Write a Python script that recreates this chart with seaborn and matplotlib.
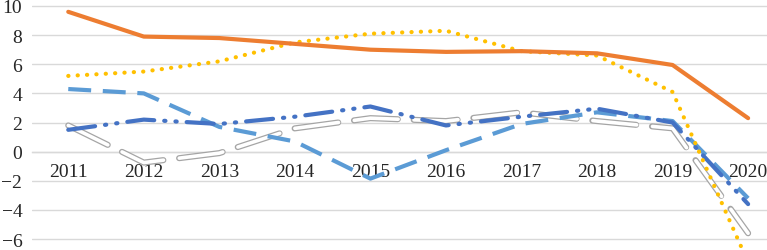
import pandas as pd
import matplotlib.pyplot as plt
import seaborn as sns

# Datos
years = ["2011", "2012", "2013", "2014", "2015", "2016", "2017", "2018", "2019", "2020"]
naranja = [9.6, 7.9, 7.8, 7.4, 7.0, 6.85, 6.9, 6.75, 5.95, 2.3]
amarillo = [5.2, 5.5, 6.2, 7.5, 8.1, 8.3, 6.9, 6.6, 4.1, -7.6]
azul_claro = [4.3, 4.0, 1.7, 0.7, -1.85, 0.1, 1.9, 2.7, 2.1, -3.2]
azul_oscuro = [1.5, 2.2, 1.9, 2.4, 3.1, 1.8, 2.4, 2.95, 2.0, -3.6]
gris = [1.8, -0.75, -0.1, 1.6, 2.3, 2.1, 2.7, 2.1, 1.6, -5.6]

df = pd.DataFrame({
    "pos": range(len(years)),
    "naranja": naranja,
    "amarillo": amarillo,
    "azul_claro": azul_claro,
    "azul_oscuro": azul_oscuro,
    "gris": gris,
})

sns.set_style("white")
plt.rcParams['font.family'] = ['Liberation Serif', 'DejaVu Serif']

fig = plt.figure(figsize=(7.67, 2.51), dpi=100)
ax = fig.add_axes([32 / 767, 0, 735 / 767, 1])

# Serie gris: linea blanca con borde gris
sns.lineplot(data=df, x="pos", y="gris", ax=ax, color="#A5A5A5", linewidth=4.4,
             linestyle=(0, (7.2, 2.6)), dash_capstyle="round", zorder=3)
sns.lineplot(data=df, x="pos", y="gris", ax=ax, color="white", linewidth=2.6,
             linestyle=(0, (12.2, 4.4)), dash_capstyle="round", zorder=3.1)
sns.lineplot(data=df, x="pos", y="azul_claro", ax=ax, color="#5B9BD5", linewidth=3,
             linestyle=(0, (5.5, 2.8)), zorder=4)
sns.lineplot(data=df, x="pos", y="azul_oscuro", ax=ax, color="#4472C4", linewidth=3,
             linestyle=(0, (6.5, 2.4, 0.3, 2.4, 0.3, 2.4)), dash_capstyle="round", zorder=5)
sns.lineplot(data=df, x="pos", y="amarillo", ax=ax, color="#FFC000", linewidth=3,
             linestyle=(0, (0.05, 2.2)), dash_capstyle="round", zorder=6)
sns.lineplot(data=df, x="pos", y="naranja", ax=ax, color="#ED7D31", linewidth=3,
             solid_capstyle="round", zorder=7)

ax.set_xlim(-0.48, 9.25)
ax.set_ylim(-6.75, 10.48)
ax.set_yticks(range(-6, 11, 2))
ax.set_xticks(range(len(years)))
ax.set_xticklabels(years)
ax.grid(axis="y", color="#D9D9D9", linewidth=1)
ax.set_axisbelow(True)

for s in ["top", "right", "left"]:
    ax.spines[s].set_visible(False)
ax.spines["bottom"].set_position(("data", 0))
ax.spines["bottom"].set_color("#D9D9D9")
ax.spines["bottom"].set_linewidth(1)

ax.tick_params(axis="both", length=0, labelsize=14)
ax.tick_params(axis="x", pad=8)
ax.tick_params(axis="y", pad=7)
ax.set_xlabel("")
ax.set_ylabel("")

fig.savefig("out.png", dpi=100)
